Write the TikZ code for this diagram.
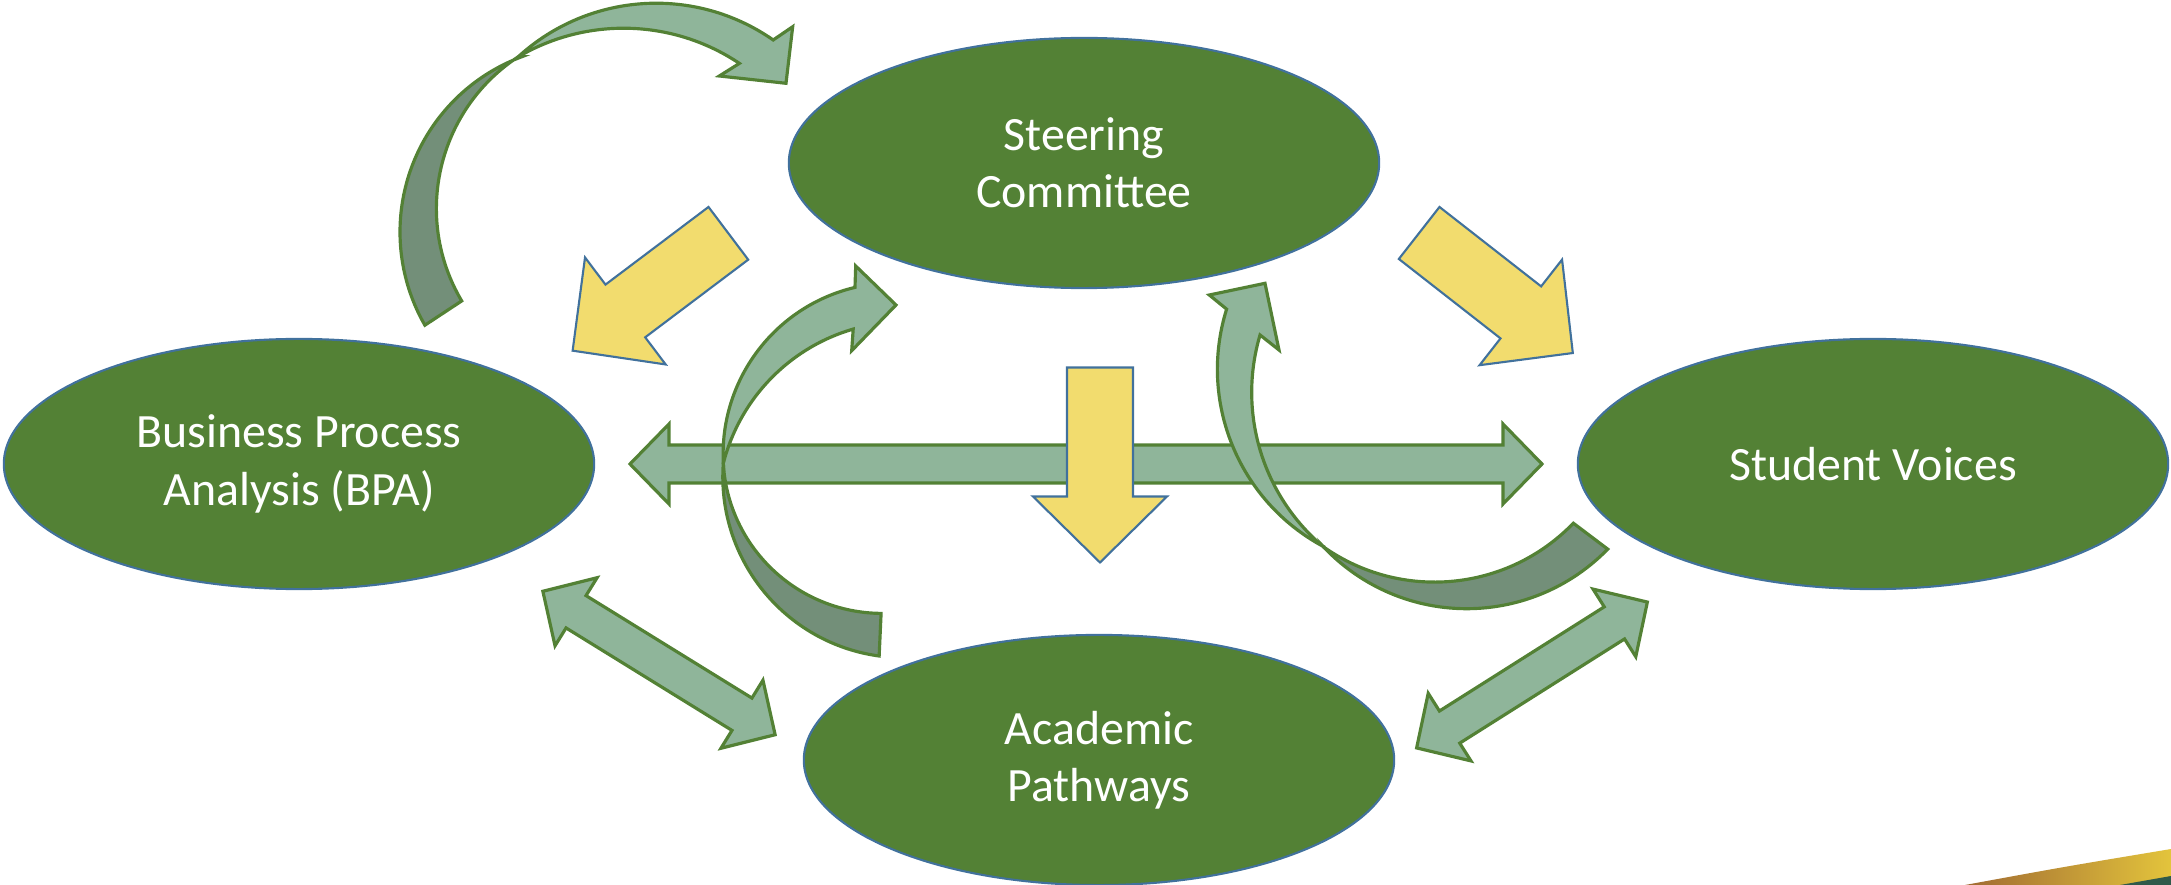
\documentclass[tikz,border=0pt]{standalone}
\usepackage{fontspec}
\setmainfont{Carlito}
\usetikzlibrary{math,shapes.geometric}
\definecolor{leafgreen}{HTML}{538135}
\definecolor{edgeblue}{HTML}{41719C}
\definecolor{goldfill}{HTML}{F2DC6E}
\definecolor{sagefill}{HTML}{8FB59A}
\definecolor{sagedark}{HTML}{738F79}
\definecolor{swooshbrown}{HTML}{A06A32}
\definecolor{swooshgold}{HTML}{E3C43C}
\definecolor{swooshteal}{HTML}{2F5A4A}

\begin{document}
\begin{tikzpicture}[x=0.01cm, y=-0.01cm,
      group/.style={ellipse, draw=edgeblue, line width=0.6pt, fill=leafgreen,
        minimum width=5.9cm, minimum height=2.5cm, text=white, align=center,
        font=\fontsize{13.6}{16.3}\selectfont},
      yarrow/.style={fill=goldfill, draw=edgeblue, line width=0.6pt},
      garrow/.style={fill=sagefill, draw=leafgreen, line width=0.9pt},
      gback/.style={fill=sagedark, draw=leafgreen, line width=0.9pt}]
    \useasboundingbox (0,0) rectangle (2171,885);
    \tikzmath{
      \yl=97.5; \ys=33; \yh=67; \yk=31.5; % yellow arrows
      \gs=19; \gh=40; \gk=39;             % green double arrows
    }

    % draw the four groups
    \node[group] (steer) at (1084,163) {Steering\\Committee};
    \node[group] (bpa) at (299,464) {Business Process\\Analysis (BPA)};
    \node[group] (voices) at (1873,464) {Student Voices};
    \node[group] (paths) at (1099,760) {Academic\\Pathways};

    % draw green double arrows
    \foreach \cx/\cy/\ang/\len in {1086/464/0/912, 659/663/-31.7/273, 1532/675/32.3/273} {
        \tikzmath{\e=\len/2; \f=\e-\gk;}
        \draw[garrow, shift={(\cx,\cy)}, rotate=\ang]
          (-\e,0) -- (-\f,-\gh) -- (-\f,-\gs) -- (\f,-\gs) -- (\f,-\gh) -- (\e,0)
          -- (\f,\gh) -- (\f,\gs) -- (-\f,\gs) -- (-\f,\gh) -- cycle;
    }

    % draw yellow arrows
    \foreach \cx/\cy/\ang in {650.5/292/217, 1496/293/-38, 1100/465/-90} {
        \draw[yarrow, shift={(\cx,\cy)}, rotate=\ang]
          (-\yl,-\ys) -- (\yk,-\ys) -- (\yk,-\yh) -- (\yl,0) -- (\yk,\yh)
          -- (\yk,\ys) -- (-\yl,\ys) -- cycle;
    }

    % curved arrow, top left (back part, then front part with head)
    \draw[gback] ([shift={(150.1:187)}]587,232) arc[start angle=150.1, end angle=249.5, radius=187]
      -- ([shift={(236.6:181.6)}]618,208.5) arc[start angle=236.6, end angle=149.4, radius=181.6] -- cycle;
    \draw[garrow] ([shift={(227.5:204.5)}]656.2,207.7) arc[start angle=227.5, end angle=304.9, radius=204.5]
      -- (792.7,26.7) -- (786,83.3) -- (719.3,76)
      -- ([shift={(303.8:208.2)}]623.6,236.4) arc[start angle=303.8, end angle=239.5, radius=208.2] -- cycle;

    % curved arrow, middle left
    \draw[gback] ([shift={(184.3:180.9)}]903.7,476.8) arc[start angle=184.3, end angle=97.8, radius=180.9]
      -- ([shift={(90.4:159.2)}]882.2,454.2) arc[start angle=90.4, end angle=176.7, radius=159.2] -- cycle;
    \draw[garrow] ([shift={(176.9:171.3)}]894.4,454.1) arc[start angle=176.9, end angle=256.7, radius=171.3]
      -- (855.7,266) -- (896,305) -- (851.7,350.7)
      -- ([shift={(253.8:188.2)}]905.7,509.8) arc[start angle=253.8, end angle=194.3, radius=188.2] -- cycle;

    % curved arrow, right
    \draw[gback] ([shift={(125.2:192.9)}]1434.6,389.2) arc[start angle=125.2, end angle=44, radius=192.9]
      -- ([shift={(44.2:196.7)}]1466.7,412) arc[start angle=44.2, end angle=136.8, radius=196.7] -- cycle;
    \draw[garrow] ([shift={(118.2:201.2)}]1418.6,369.3) arc[start angle=118.2, end angle=197.4, radius=201.2]
      -- (1209.3,295) -- (1265,283.3) -- (1279,350)
      -- ([shift={(196.5:202.2)}]1453.9,392.4) arc[start angle=196.5, end angle=130.2, radius=202.2] -- cycle;

    % corner swoosh
    \shade[left color=swooshbrown, right color=swooshgold]
      (1965,885) .. controls (2063,867) .. (2171,849) -- (2171,885) -- cycle;
    \fill[swooshteal] (2120,885) -- (2171,876) -- (2171,885) -- cycle;
\end{tikzpicture}
\end{document}
